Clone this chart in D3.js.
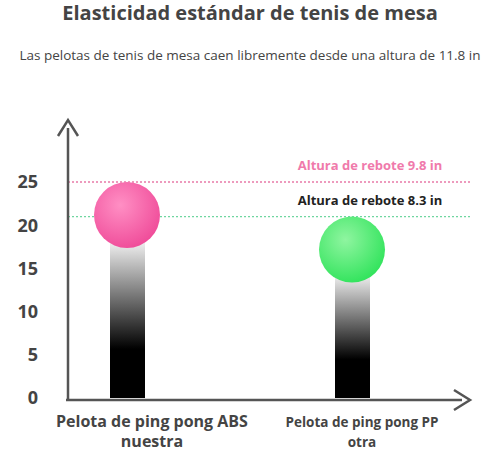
<!DOCTYPE html>
<html><head><meta charset="utf-8">
<script src="https://cdn.jsdelivr.net/npm/d3@7"></script>
<style>body{margin:0;background:#fff;font-family:"Open Sans",sans-serif}</style>
</head><body>
<svg id="chart" width="500" height="450"></svg>
<script>
// data
var categories = [["Pelota de ping pong ABS", "nuestra"], ["Pelota de ping pong PP", "otra"]];
var bounceTop = [25, 21];          // top of the ball, chart units
var refLabels = ["Altura de rebote 9.8 in", "Altura de rebote 8.3 in"];
var ticks = [0, 5, 10, 15, 20, 25];
var ballColors = [["#ff8fc4", "#ef4a98"], ["#8ff5a0", "#2fe35a"]];
var lineColors = ["#e87aa8", "#6fd6a0"];

var svg = d3.select("#chart");
var y = d3.scaleLinear().domain([0, 25]).range([398, 182]);

svg.append("text").attr("x", 250).attr("y", 20).attr("text-anchor", "middle")
  .style("font-size", "20px").style("font-weight", 700).style("fill", "#444")
  .text("Elasticidad estándar de tenis de mesa");
svg.append("text").attr("x", 250).attr("y", 60).attr("text-anchor", "middle")
  .style("font-size", "13.5px").style("fill", "#444")
  .text("Las pelotas de tenis de mesa caen libremente desde una altura de 11.8 in");

var defs = svg.append("defs");
var g = defs.append("linearGradient").attr("id", "bar").attr("x1", 0).attr("y1", 0).attr("x2", 0).attr("y2", 1);
g.append("stop").attr("offset", "0%").attr("stop-color", "#fff");
g.append("stop").attr("offset", "70%").attr("stop-color", "#000");
g.append("stop").attr("offset", "100%").attr("stop-color", "#000");
ballColors.forEach(function(c, i) {
  var rg = defs.append("radialGradient").attr("id", "ball" + i).attr("cx", "40%").attr("cy", "35%").attr("r", "70%");
  rg.append("stop").attr("offset", "0%").attr("stop-color", c[0]);
  rg.append("stop").attr("offset", "100%").attr("stop-color", c[1]);
});

// reference lines
bounceTop.forEach(function(v, i) {
  svg.append("line").attr("x1", 68).attr("x2", 470).attr("y1", y(v)).attr("y2", y(v))
    .attr("stroke", lineColors[i]).attr("stroke-width", 1.3).attr("stroke-dasharray", "2,2");
  svg.append("text").attr("x", 370).attr("y", y(v) - 12).attr("text-anchor", "middle")
    .style("font-size", "13px").style("font-weight", 700)
    .style("fill", i == 0 ? "#f07aab" : "#222").text(refLabels[i]);
});

var r = 33, cx = [127, 352];
bounceTop.forEach(function(v, i) {
  var cy = y(v) + r;
  svg.append("rect").attr("x", cx[i] - 17).attr("width", 35).attr("y", cy + 20)
    .attr("height", y(0) - cy - 20).attr("fill", "url(#bar)");
  svg.append("circle").attr("cx", cx[i]).attr("cy", cy).attr("r", r).attr("fill", "url(#ball" + i + ")");
});

// axes
var axisColor = "#555";
svg.append("line").attr("x1", 68).attr("x2", 68).attr("y1", 400).attr("y2", 128).attr("stroke", axisColor).attr("stroke-width", 2.5);
svg.append("path").attr("d", "M58,136 L68,120 L78,136").attr("fill", "none").attr("stroke", axisColor).attr("stroke-width", 2.5);
svg.append("line").attr("x1", 66).attr("x2", 462).attr("y1", 400).attr("y2", 400).attr("stroke", axisColor).attr("stroke-width", 2.5);
svg.append("path").attr("d", "M454,390 L470,400 L454,410").attr("fill", "none").attr("stroke", axisColor).attr("stroke-width", 2.5);

svg.selectAll(".tick").data(ticks).enter().append("text")
  .attr("x", 38).attr("y", function(d) { return y(d); }).attr("dy", "0.35em").attr("text-anchor", "end")
  .style("font-size", "18px").style("font-weight", 700).style("fill", "#444").text(function(d) { return d; });

categories.forEach(function(c, i) {
  var px = i == 0 ? 152 : 362;
  var t = svg.append("text").attr("text-anchor", "middle")
    .style("font-size", i == 0 ? "16px" : "13.5px").style("font-weight", 700).style("fill", "#444");
  c.forEach(function(s, j) { t.append("tspan").attr("x", px).attr("y", 427 + j * 20).text(s); });
});
</script>
</body></html>
